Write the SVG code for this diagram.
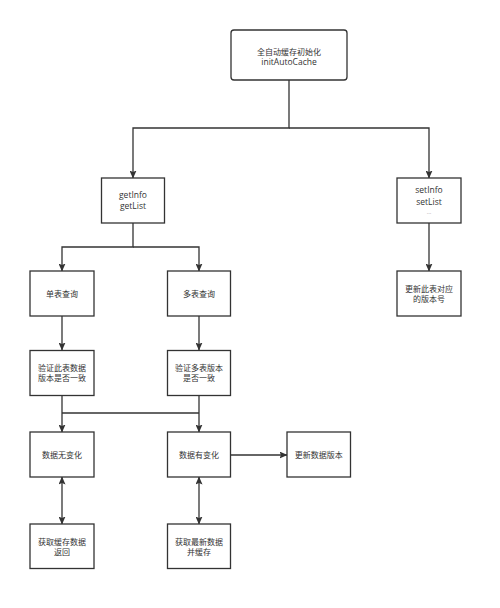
<svg xmlns="http://www.w3.org/2000/svg" width="500" height="608" viewBox="0 0 500 608">
<style>
.box{fill:#fff;stroke:#333;stroke-width:1.3}
.t{font-family:"Open Sans","Noto Sans CJK SC",sans-serif;font-size:8px;fill:#333;text-anchor:middle}
.l{font-size:8.5px}
.dots{font-family:"Open Sans",sans-serif;font-size:6px;fill:#999;text-anchor:middle}
.c{fill:none;stroke:#333;stroke-width:1.3}
</style>
<defs>
<marker id="ae" markerUnits="userSpaceOnUse" markerWidth="8" markerHeight="7" refX="7.5" refY="3.5" orient="auto">
<path d="M0,0 L8,3.5 L0,7 L1.5,3.5 z" fill="#333"/>
</marker>
<marker id="as" markerUnits="userSpaceOnUse" markerWidth="8" markerHeight="7" refX="0.5" refY="3.5" orient="auto">
<path d="M8,0 L0,3.5 L8,7 L6.5,3.5 z" fill="#333"/>
</marker>
</defs>
<rect width="500" height="608" fill="#fff"/>
<g id="connectors">
<path class="c" d="M289,80 V128 H133 V178" marker-end="url(#ae)"/>
<path class="c" d="M289,128 H429 V178" marker-end="url(#ae)"/>
<path class="c" d="M133,223 V247 H62 V271" marker-end="url(#ae)"/>
<path class="c" d="M133,247 H199 V271" marker-end="url(#ae)"/>
<path class="c" d="M62,316 V350" marker-end="url(#ae)"/>
<path class="c" d="M199,316 V350" marker-end="url(#ae)"/>
<path class="c" d="M62,395 V432" marker-end="url(#ae)"/>
<path class="c" d="M199,395 V432" marker-end="url(#ae)"/>
<path class="c" d="M62,413 H199"/>
<path class="c" d="M231,455 H287" marker-end="url(#ae)"/>
<path class="c" d="M62,477 V524" marker-start="url(#as)" marker-end="url(#ae)"/>
<path class="c" d="M199,477 V524" marker-start="url(#as)" marker-end="url(#ae)"/>
<path class="c" d="M429,223 V271" marker-end="url(#ae)"/>
</g>
<g id="init">
<rect class="box" x="231" y="30" width="116" height="50" rx="3"/>
<text class="t" x="289" y="54.7">全自动缓存初始化</text>
<text class="t l" x="289" y="64.7">initAutoCache</text>
</g>
<g id="get">
<rect class="box" x="101.5" y="178" width="63" height="45"/>
<text class="t l" x="133" y="197.8">getInfo</text>
<text class="t l" x="133" y="209.3">getList</text>
</g>
<g id="set">
<rect class="box" x="397" y="178" width="64" height="45"/>
<text class="t l" x="429" y="193">setInfo</text>
<text class="t l" x="429" y="204.6">setList</text>
<text class="dots" x="429" y="214">...</text>
</g>
<g id="updateTable">
<rect class="box" x="397" y="271" width="64" height="45"/>
<text class="t" x="429" y="292">更新此表对应</text>
<text class="t" x="429" y="301.5">的版本号</text>
</g>
<g id="single">
<rect class="box" x="30" y="271" width="64" height="45"/>
<text class="t" x="62" y="297">单表查询</text>
</g>
<g id="multi">
<rect class="box" x="167.5" y="271" width="63" height="45"/>
<text class="t" x="199" y="297">多表查询</text>
</g>
<g id="verifySingle">
<rect class="box" x="30" y="350.5" width="64" height="45"/>
<text class="t" x="62" y="371.3">验证此表数据</text>
<text class="t" x="62" y="381">版本是否一致</text>
</g>
<g id="verifyMulti">
<rect class="box" x="167.5" y="350.5" width="63" height="45"/>
<text class="t" x="199" y="371.3">验证多表版本</text>
<text class="t" x="199" y="381">是否一致</text>
</g>
<g id="noChange">
<rect class="box" x="30" y="432" width="64" height="45"/>
<text class="t" x="62" y="458">数据无变化</text>
</g>
<g id="changed">
<rect class="box" x="167.5" y="432" width="63" height="45"/>
<text class="t" x="199" y="458">数据有变化</text>
</g>
<g id="updateVersion">
<rect class="box" x="287" y="432" width="63.5" height="45"/>
<text class="t" x="318.7" y="458">更新数据版本</text>
</g>
<g id="getCache">
<rect class="box" x="30" y="524" width="64" height="44.5"/>
<text class="t" x="62" y="545.3">获取缓存数据</text>
<text class="t" x="62" y="555.3">返回</text>
</g>
<g id="getLatest">
<rect class="box" x="167.5" y="524" width="63" height="44.5"/>
<text class="t" x="199" y="545.3">获取最新数据</text>
<text class="t" x="199" y="555.3">并缓存</text>
</g>
</svg>
